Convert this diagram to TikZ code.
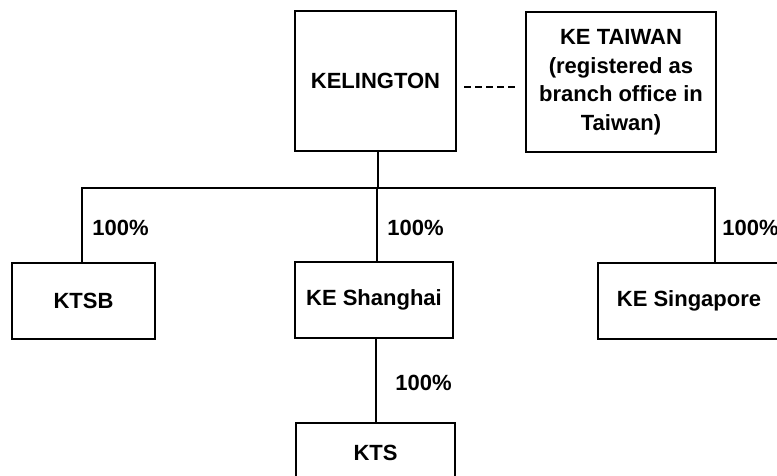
\documentclass[tikz,border=0pt]{standalone}
\usepackage{fontspec}
\setmainfont{Liberation Sans}
\usetikzlibrary{positioning,calc}

\begin{document}
\begin{tikzpicture}[x=0.5pt,y=-0.5pt,
    entity/.style={draw,line width=1pt,inner sep=0pt,align=center,
      font=\bfseries\fontsize{11}{14.25}\selectfont},
    link/.style={line width=1pt},
    share/.style={font=\bfseries\fontsize{11}{13}\selectfont,anchor=west,inner sep=0pt}]
  \useasboundingbox (0,0) rectangle (777,476);
  % holding company and branch
  \node[entity,minimum width=80.5pt,minimum height=70pt] (kel) at (375.5,81) {KELINGTON};
  \node[entity,minimum width=95pt,minimum height=70pt] (ketw) at (621,82)
       {KE TAIWAN\\(registered as\\branch office in\\Taiwan)};
  \draw[link,dashed,dash pattern=on 3.5pt off 2pt]
       ([xshift=3.5pt,yshift=-3pt]kel.east) -- ([xshift=-4.5pt,yshift=-3pt]kel.east -| ketw.west);
  % subsidiaries
  \node[entity,minimum width=71.5pt,minimum height=38pt] (ktsb) at (83.5,301) {KTSB};
  \node[entity,minimum width=79pt,minimum height=38pt] (kesh) at (374,300) {KE Shanghai};
  \node[entity,minimum width=91pt,minimum height=38pt] (kesg) at (689,300.5) {KE Singapore};
  \node[entity,minimum width=79.5pt,minimum height=30pt] (kts) at (375.5,453) {KTS};
  % ownership lines
  \coordinate (bus) at (0,188);
  \coordinate (sgdrop) at (715,188);
  \draw[link] ([xshift=1pt]kel.south) -- ([xshift=1pt]kel.south |- bus);
  \draw[link] (ktsb.north -| 82,0) |- (sgdrop) -- (sgdrop |- kesg.north);
  \draw[link] (bus -| 377,0) -- ([xshift=1.5pt]kesh.north);
  \draw[link] ([xshift=1pt]kesh.south) -- ([xshift=1pt]kesh.south |- kts.north);
  % percentages
  \node[share] (p1) at (92,228) {100\%};
  \node[share] (p2) at (387,228) {100\%};
  \node[share] (p3) at (722,228) {100\%};
  \node[share] (p4) at (395,383) {100\%};
\end{tikzpicture}
\end{document}
